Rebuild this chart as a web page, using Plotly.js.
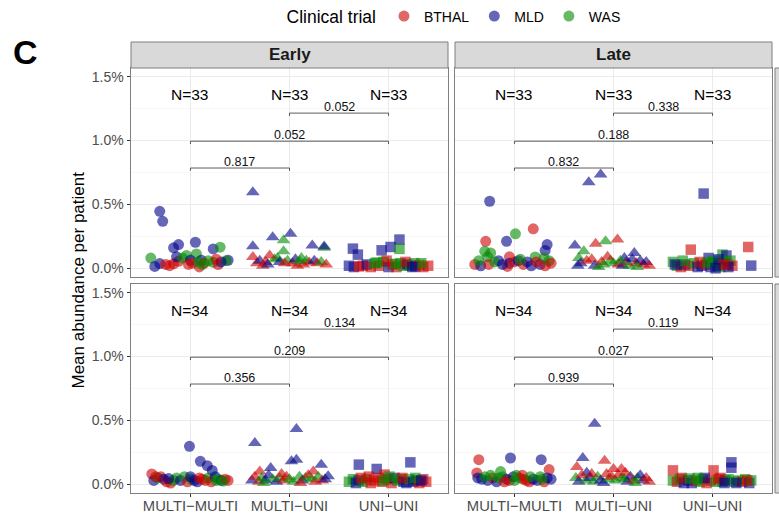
<!DOCTYPE html>
<html><head><meta charset="utf-8">
<script src="https://cdn.plot.ly/plotly-3.0.1.min.js"></script>
<style>html,body{margin:0;padding:0;background:#fff}#chart{width:779px;height:513px}</style>
</head><body><div id="chart"></div><script>
// ---------- data ----------
const categories = ['MULTI\u2212MULTI', 'MULTI\u2212UNI', 'UNI\u2212UNI'];
const trials = ['BTHAL', 'MLD', 'WAS'];
const trialCode = {B: 'BTHAL', M: 'MLD', W: 'WAS'};
const facetCols = ['Early', 'Late'];
const yTickSuffix = '%';

// points: [jitter offset from category, mean abundance (%), trial]
const earlyTopMM = [[-0.40,0.080,'W'],[-0.31,0.446,'M'],[-0.28,0.368,'M'],[-0.31,0.037,'M'],[-0.36,0.015,'M'],[-0.21,0.021,'B'],[-0.25,0.030,'B'],[-0.17,0.035,'B'],[-0.12,0.055,'B'],[-0.17,0.160,'M'],[-0.12,0.186,'M'],[-0.14,0.090,'M'],[-0.08,0.080,'W'],[-0.04,0.100,'W'],[0.05,0.204,'M'],[0.06,0.113,'W'],[0.00,0.063,'M'],[0.02,0.040,'B'],[0.09,0.011,'B'],[0.11,0.063,'M'],[0.08,0.050,'W'],[0.14,0.040,'B'],[0.23,0.152,'M'],[0.30,0.165,'W'],[0.23,0.047,'W'],[0.28,0.029,'B'],[0.38,0.063,'M'],[0.36,0.060,'W'],[0.18,0.060,'W'],[-0.02,0.030,'B'],[0.31,0.050,'M'],[0.12,0.030,'W'],[0.26,0.070,'B']];
const earlyTopMU = [[-0.37,0.595,'M'],[-0.37,0.172,'M'],[-0.37,0.089,'B'],[-0.33,0.040,'B'],[-0.30,0.060,'M'],[-0.27,0.020,'B'],[-0.24,0.050,'B'],[-0.22,0.030,'M'],[-0.17,0.243,'M'],[-0.15,0.070,'W'],[-0.12,0.080,'W'],[-0.10,0.050,'M'],[-0.06,0.220,'W'],[-0.06,0.133,'W'],[0.01,0.270,'M'],[-0.02,0.060,'W'],[0.03,0.040,'B'],[0.06,0.070,'M'],[0.08,0.020,'B'],[0.10,0.055,'W'],[0.14,0.030,'B'],[0.17,0.060,'W'],[0.20,0.045,'B'],[0.23,0.178,'M'],[0.25,0.060,'M'],[0.28,0.040,'B'],[0.32,0.050,'W'],[0.35,0.160,'W'],[0.35,0.170,'M'],[0.37,0.030,'B'],[-0.05,0.040,'B'],[0.12,0.080,'W'],[-0.20,0.100,'B']];
const earlyTopUU = [[-0.36,0.154,'M'],[-0.31,0.107,'M'],[-0.40,0.020,'M'],[-0.35,0.010,'M'],[-0.30,0.015,'B'],[-0.26,0.020,'B'],[-0.22,0.030,'M'],[-0.18,0.010,'B'],[-0.14,0.040,'W'],[-0.07,0.141,'M'],[-0.10,0.020,'B'],[-0.05,0.050,'W'],[0.02,0.167,'M'],[0.00,0.010,'M'],[0.04,0.030,'B'],[0.11,0.225,'M'],[0.11,0.152,'W'],[0.08,0.010,'B'],[0.12,0.040,'W'],[0.15,0.020,'W'],[0.19,0.030,'M'],[0.22,0.020,'W'],[0.26,0.040,'W'],[0.27,0.015,'M'],[0.31,0.025,'B'],[0.35,0.010,'B'],[0.40,0.020,'B'],[0.33,0.040,'W'],[-0.02,0.060,'B'],[0.17,0.050,'B'],[-0.12,0.045,'W'],[0.07,0.035,'W'],[0.24,0.010,'M']];
const lateTopMM = [[-0.25,0.525,'M'],[-0.29,0.211,'B'],[0.01,0.270,'W'],[0.19,0.309,'B'],[-0.08,0.211,'M'],[0.33,0.186,'M'],[0.31,0.140,'M'],[-0.30,0.133,'W'],[-0.24,0.120,'W'],[-0.27,0.090,'W'],[0.21,0.089,'W'],[-0.40,0.030,'B'],[-0.34,0.020,'M'],[-0.26,0.030,'B'],[-0.16,0.060,'M'],[-0.05,0.090,'B'],[-0.05,0.040,'M'],[-0.07,0.015,'B'],[0.00,0.050,'B'],[0.04,0.060,'M'],[0.09,0.030,'B'],[0.13,0.050,'M'],[0.17,0.020,'M'],[0.26,0.030,'M'],[0.30,0.080,'W'],[0.31,0.020,'B'],[0.35,0.060,'W'],[-0.20,0.050,'W'],[0.06,0.070,'W'],[-0.12,0.030,'M'],[0.22,0.050,'B'],[0.37,0.040,'B'],[-0.36,0.060,'W']];
const lateTopMU = [[-0.25,0.673,'M'],[-0.13,0.734,'M'],[-0.39,0.178,'M'],[-0.18,0.193,'B'],[-0.08,0.211,'W'],[0.04,0.225,'B'],[-0.30,0.133,'W'],[0.21,0.120,'M'],[-0.35,0.080,'W'],[-0.33,0.040,'M'],[-0.27,0.060,'B'],[-0.22,0.070,'B'],[-0.19,0.020,'M'],[-0.15,0.010,'W'],[-0.12,0.050,'B'],[-0.03,0.060,'W'],[0.00,0.040,'W'],[0.05,0.030,'B'],[0.09,0.020,'M'],[0.13,0.050,'B'],[0.16,0.020,'W'],[0.19,0.070,'M'],[0.23,0.040,'B'],[0.27,0.060,'M'],[0.30,0.030,'B'],[0.33,0.050,'M'],[-0.06,0.090,'B'],[0.11,0.080,'M'],[-0.36,0.020,'M'],[0.24,0.010,'W'],[-0.10,0.030,'W'],[0.07,0.060,'W'],[0.36,0.020,'B']];
const lateTopUU = [[-0.09,0.585,'M'],[-0.22,0.146,'B'],[0.36,0.167,'B'],[0.39,0.021,'M'],[0.10,0.107,'W'],[-0.04,0.081,'M'],[0.14,0.100,'M'],[-0.40,0.050,'W'],[-0.36,0.020,'W'],[-0.32,0.010,'B'],[-0.28,0.030,'M'],[-0.24,0.020,'B'],[-0.19,0.040,'W'],[-0.15,0.010,'M'],[-0.11,0.020,'M'],[-0.07,0.030,'B'],[-0.02,0.010,'M'],[0.02,0.040,'W'],[0.05,0.020,'M'],[0.08,0.010,'W'],[0.12,0.050,'W'],[0.15,0.030,'B'],[0.18,0.060,'W'],[0.20,0.020,'B'],[-0.30,0.060,'W'],[0.00,0.060,'W'],[-0.13,0.050,'B'],[0.06,0.070,'M'],[0.16,0.010,'M'],[-0.38,0.030,'M'],[0.11,0.030,'B'],[-0.05,0.045,'W'],[0.03,0.000,'M']];
const earlyBotMM = [[-0.01,0.297,'M'],[0.10,0.180,'M'],[0.17,0.146,'M'],[0.22,0.109,'M'],[-0.39,0.081,'B'],[-0.37,0.030,'M'],[-0.33,0.050,'W'],[-0.30,0.060,'B'],[-0.27,0.040,'M'],[-0.24,0.020,'B'],[-0.20,0.010,'B'],[-0.17,0.030,'W'],[-0.14,0.050,'W'],[-0.10,0.030,'M'],[-0.06,0.060,'W'],[-0.03,0.020,'B'],[0.01,0.040,'W'],[0.04,0.030,'M'],[0.07,0.020,'M'],[0.12,0.040,'B'],[0.15,0.030,'B'],[0.18,0.050,'W'],[0.21,0.020,'B'],[0.25,0.060,'M'],[0.28,0.040,'W'],[0.31,0.030,'M'],[0.35,0.040,'B'],[0.38,0.030,'B'],[-0.35,0.060,'B'],[0.00,0.060,'M'],[0.26,0.030,'W'],[-0.22,0.045,'M'],[0.09,0.050,'B'],[0.33,0.025,'W']];
const earlyBotMU = [[-0.35,0.323,'M'],[0.07,0.432,'M'],[0.02,0.180,'M'],[0.07,0.193,'M'],[0.32,0.154,'M'],[-0.19,0.128,'M'],[-0.30,0.100,'B'],[0.24,0.100,'B'],[0.39,0.063,'M'],[-0.38,0.030,'M'],[-0.35,0.060,'B'],[-0.31,0.020,'B'],[-0.28,0.050,'W'],[-0.24,0.030,'M'],[-0.21,0.070,'M'],[-0.17,0.040,'W'],[-0.13,0.020,'M'],[-0.10,0.050,'W'],[-0.06,0.030,'B'],[-0.03,0.060,'B'],[0.00,0.040,'W'],[0.04,0.020,'W'],[0.10,0.060,'W'],[0.13,0.030,'M'],[0.16,0.050,'W'],[0.19,0.070,'B'],[0.22,0.040,'W'],[0.26,0.020,'B'],[0.29,0.060,'W'],[0.33,0.030,'B'],[0.36,0.040,'M'],[-0.08,0.080,'B'],[0.11,0.010,'B'],[-0.26,0.010,'W']];
const earlyBotUU = [[-0.30,0.154,'M'],[-0.12,0.120,'M'],[0.22,0.172,'M'],[-0.04,0.076,'B'],[-0.40,0.020,'W'],[-0.36,0.040,'W'],[-0.33,0.010,'M'],[-0.30,0.030,'M'],[-0.26,0.020,'W'],[-0.22,0.040,'W'],[-0.18,0.010,'B'],[-0.15,0.030,'B'],[-0.10,0.050,'B'],[-0.07,0.020,'B'],[0.00,0.040,'B'],[0.03,0.010,'B'],[0.06,0.050,'M'],[0.09,0.030,'W'],[0.12,0.040,'W'],[0.15,0.020,'M'],[0.18,0.010,'M'],[0.21,0.040,'W'],[0.25,0.020,'M'],[0.28,0.030,'M'],[0.31,0.010,'B'],[0.35,0.040,'B'],[0.38,0.020,'B'],[-0.05,0.030,'W'],[0.14,0.050,'B'],[-0.28,0.050,'B'],[0.01,0.060,'W'],[0.27,0.050,'W'],[0.33,0.030,'M'],[-0.20,0.060,'B']];
const lateBotMM = [[-0.36,0.193,'B'],[-0.04,0.206,'M'],[0.27,0.193,'M'],[-0.38,0.089,'B'],[0.35,0.115,'B'],[-0.14,0.100,'W'],[-0.37,0.050,'M'],[-0.33,0.040,'M'],[-0.27,0.030,'M'],[-0.22,0.050,'B'],[-0.18,0.020,'M'],[-0.12,0.060,'W'],[-0.08,0.040,'M'],[-0.05,0.030,'B'],[-0.01,0.060,'M'],[0.02,0.070,'W'],[0.05,0.050,'W'],[0.09,0.040,'B'],[0.12,0.030,'B'],[0.15,0.020,'B'],[0.19,0.040,'M'],[0.23,0.030,'M'],[0.26,0.060,'W'],[0.30,0.020,'B'],[0.33,0.050,'M'],[0.37,0.040,'M'],[-0.30,0.060,'W'],[0.08,0.070,'B'],[-0.16,0.050,'W'],[0.28,0.040,'W'],[-0.24,0.070,'W'],[0.00,0.030,'W'],[0.16,0.060,'W'],[-0.10,0.020,'B']];
const lateBotMU = [[-0.19,0.474,'M'],[-0.31,0.206,'M'],[-0.09,0.185,'B'],[-0.37,0.136,'B'],[0.00,0.120,'B'],[0.08,0.120,'B'],[-0.27,0.090,'M'],[-0.38,0.050,'W'],[-0.35,0.020,'M'],[-0.32,0.070,'B'],[-0.28,0.030,'W'],[-0.24,0.050,'M'],[-0.20,0.020,'W'],[-0.16,0.060,'W'],[-0.13,0.030,'M'],[-0.10,0.010,'M'],[-0.05,0.040,'W'],[-0.02,0.060,'B'],[0.02,0.030,'W'],[0.05,0.070,'B'],[0.11,0.040,'W'],[0.14,0.020,'M'],[0.17,0.060,'M'],[0.20,0.030,'B'],[0.24,0.050,'W'],[0.27,0.070,'M'],[0.30,0.030,'M'],[0.33,0.050,'B'],[0.36,0.020,'B'],[-0.07,0.080,'B'],[0.09,0.050,'W'],[-0.22,0.080,'B'],[0.22,0.010,'W'],[0.12,0.090,'B']];
const lateBotUU = [[-0.40,0.109,'B'],[0.01,0.109,'B'],[0.19,0.172,'M'],[0.19,0.130,'M'],[-0.40,0.030,'W'],[-0.36,0.020,'B'],[-0.33,0.040,'W'],[-0.29,0.010,'M'],[-0.25,0.030,'M'],[-0.21,0.010,'M'],[-0.17,0.030,'B'],[-0.13,0.020,'W'],[-0.10,0.040,'W'],[-0.06,0.010,'B'],[-0.02,0.030,'B'],[0.03,0.020,'W'],[0.06,0.040,'B'],[0.10,0.020,'W'],[0.13,0.030,'M'],[0.16,0.040,'W'],[0.22,0.020,'W'],[0.26,0.030,'W'],[0.30,0.020,'B'],[0.33,0.040,'W'],[0.37,0.010,'M'],[0.39,0.030,'W'],[-0.08,0.050,'M'],[0.08,0.050,'B'],[-0.31,0.050,'B'],[0.24,0.010,'M'],[-0.15,0.050,'W'],[0.12,0.010,'M'],[0.35,0.030,'B'],[-0.23,0.045,'W']];

// group sizes and p-values (comparisons: MU-UU, MM-UU, MM-MU)
const nTop = [33, 33, 33];
const nBottom = [34, 34, 34];
const pEarlyTop = ['0.052', '0.052', '0.817'];
const pLateTop = ['0.338', '0.188', '0.832'];
const pEarlyBottom = ['0.134', '0.209', '0.356'];
const pLateBottom = ['0.119', '0.027', '0.939'];
const comparisons = [[1, 2], [0, 2], [0, 1]];

// ---------- styling ----------
const FONT = 'Liberation Sans, Arial, Helvetica, sans-serif';
const trialColors = {BTHAL: '#CD0000', MLD: '#00008B', WAS: '#008B00'};
const symbols = ['circle', 'triangle-up', 'square'];
const symSizes = [11, 12, 10.5];
const W = 779, H = 513;
const px = v => v / W, py = v => 1 - v / H;
const colDom = [[px(131), px(448)], [px(455), px(772)]];
const rowDom = [[py(277), py(68)], [py(493), py(284)]];
const yRange = [-0.068, 1.568];
const nLevel = 1.357;
const bracketLevels = [1.215, 0.995, 0.785];
const tip = 0.022;
const borderCol = '#7f7f7f';

const panels = [
  {row: 0, col: 0, groups: [earlyTopMM, earlyTopMU, earlyTopUU], n: nTop, p: pEarlyTop},
  {row: 0, col: 1, groups: [lateTopMM, lateTopMU, lateTopUU], n: nTop, p: pLateTop},
  {row: 1, col: 0, groups: [earlyBotMM, earlyBotMU, earlyBotUU], n: nBottom, p: pEarlyBottom},
  {row: 1, col: 1, groups: [lateBotMM, lateBotMU, lateBotUU], n: nBottom, p: pLateBottom}
];

const traces = [];
const annotations = [];
const layout = {
  width: W, height: H, margin: {l: 0, r: 0, t: 0, b: 0},
  paper_bgcolor: '#fff', plot_bgcolor: '#fff',
  font: {family: FONT, color: '#000'},
  hovermode: false,
  showlegend: true,
  legend: {orientation: 'h', x: px(455), xanchor: 'center', y: py(17), yanchor: 'middle',
    title: {text: 'Clinical trial', side: 'left', font: {size: 17.5, color: '#000'}},
    font: {size: 14, color: '#000'}, itemwidth: 30, bgcolor: 'rgba(0,0,0,0)', tracegroupgap: 0},
  shapes: [], annotations: annotations
};

panels.forEach((pn, i) => {
  const k = i + 1;
  const sfx = k === 1 ? '' : String(k);
  const xa = 'x' + sfx, ya = 'y' + sfx;
  layout['xaxis' + sfx] = {
    domain: colDom[pn.col], anchor: ya, range: [-0.6, 2.6],
    tickmode: 'array', tickvals: [0, 1, 2], ticktext: categories,
    showticklabels: pn.row === 1, ticks: pn.row === 1 ? 'outside' : '', ticklen: 3, tickcolor: '#333', tickwidth: 1,
    ticklabelstandoff: -4,
    tickfont: {size: 14.8, color: '#4D4D4D', family: FONT},
    showgrid: true, gridcolor: '#EBEBEB', gridwidth: 1, zeroline: false,
    showline: true, mirror: true, linecolor: borderCol, linewidth: 1, fixedrange: true
  };
  layout['yaxis' + sfx] = {
    domain: rowDom[pn.row], anchor: xa, range: yRange,
    tickmode: 'linear', tick0: 0, dtick: 0.5, tickformat: '.1f', ticksuffix: yTickSuffix,
    showticklabels: pn.col === 0, ticks: pn.col === 0 ? 'outside' : '', ticklen: 3.5, tickcolor: '#333', tickwidth: 1,
    tickfont: {size: 14, color: '#4D4D4D', family: FONT},
    showgrid: true, gridcolor: '#EBEBEB', gridwidth: 1, zeroline: false,
    minor: {tick0: 0, dtick: 0.25, showgrid: true, gridcolor: '#F4F4F4', gridwidth: 0.6, ticks: ''},
    showline: true, mirror: true, linecolor: borderCol, linewidth: 1, fixedrange: true
  };

  // points
  const x = [], y = [], c = [], s = [], sz = [];
  pn.groups.forEach((g, ci) => {
    g.forEach(pt => {
      x.push(ci + pt[0]); y.push(pt[1]);
      c.push(trialColors[trialCode[pt[2]]]);
      s.push(symbols[ci]); sz.push(symSizes[ci]);
    });
  });
  traces.push({type: 'scatter', mode: 'markers', x: x, y: y, xaxis: xa, yaxis: ya, showlegend: false,
    marker: {color: c, symbol: s, size: sz, opacity: 0.6, line: {width: 0}}, hoverinfo: 'skip'});

  // brackets
  const bx = [], by = [];
  comparisons.forEach((cmp, j) => {
    const lv = bracketLevels[j];
    bx.push(cmp[0], cmp[0], cmp[1], cmp[1], null);
    by.push(lv - tip, lv, lv, lv - tip, null);
    annotations.push({xref: xa, yref: ya, x: (cmp[0] + cmp[1]) / 2, y: lv, text: pn.p[j],
      showarrow: false, xanchor: 'center', yanchor: 'middle', yshift: 6,
      font: {size: 12.5, color: '#111', family: FONT}});
  });
  traces.push({type: 'scatter', mode: 'lines', x: bx, y: by, xaxis: xa, yaxis: ya, showlegend: false,
    line: {color: '#333', width: 0.8}, hoverinfo: 'skip', connectgaps: false});

  // N labels
  pn.n.forEach((nv, ci) => {
    annotations.push({xref: xa, yref: ya, x: ci, y: nLevel, text: 'N=' + nv, showarrow: false,
      xanchor: 'center', yanchor: 'middle', font: {size: 15.5, color: '#000', family: FONT}});
  });
});

// legend entries
trials.forEach(t => {
  traces.push({type: 'scatter', mode: 'markers', x: [null], y: [null], name: t, xaxis: 'x', yaxis: 'y',
    marker: {color: trialColors[t], symbol: 'circle', size: 11, opacity: 0.6}, showlegend: true});
});

// strips
facetCols.forEach((lab, ci) => {
  layout.shapes.push({type: 'rect', xref: 'paper', yref: 'paper', x0: colDom[ci][0], x1: colDom[ci][1],
    y0: py(68), y1: py(42), fillcolor: '#D9D9D9', line: {color: borderCol, width: 1}, layer: 'above'});
  annotations.push({xref: 'paper', yref: 'paper', x: (colDom[ci][0] + colDom[ci][1]) / 2, y: py(55),
    text: '<b>' + lab + '</b>', showarrow: false, xanchor: 'center', yanchor: 'middle',
    font: {size: 17, color: '#1a1a1a', family: FONT}});
});
rowDom.forEach(rd => {
  layout.shapes.push({type: 'rect', xref: 'paper', yref: 'paper', x0: px(775), x1: px(792),
    y0: rd[0], y1: rd[1], fillcolor: '#D9D9D9', line: {color: borderCol, width: 1}, layer: 'above'});
});

// axis title & panel tag
annotations.push({xref: 'paper', yref: 'paper', x: px(78), y: py(280.5), text: 'Mean abundance per patient',
  textangle: -90, showarrow: false, xanchor: 'center', yanchor: 'middle', font: {size: 17, color: '#000', family: FONT}});
annotations.push({xref: 'paper', yref: 'paper', x: px(25), y: py(52), text: '<b>C</b>',
  showarrow: false, xanchor: 'center', yanchor: 'middle', font: {size: 34, color: '#000', family: FONT}});

Plotly.newPlot('chart', traces, layout, {displayModeBar: false, staticPlot: true});
</script></body></html>
